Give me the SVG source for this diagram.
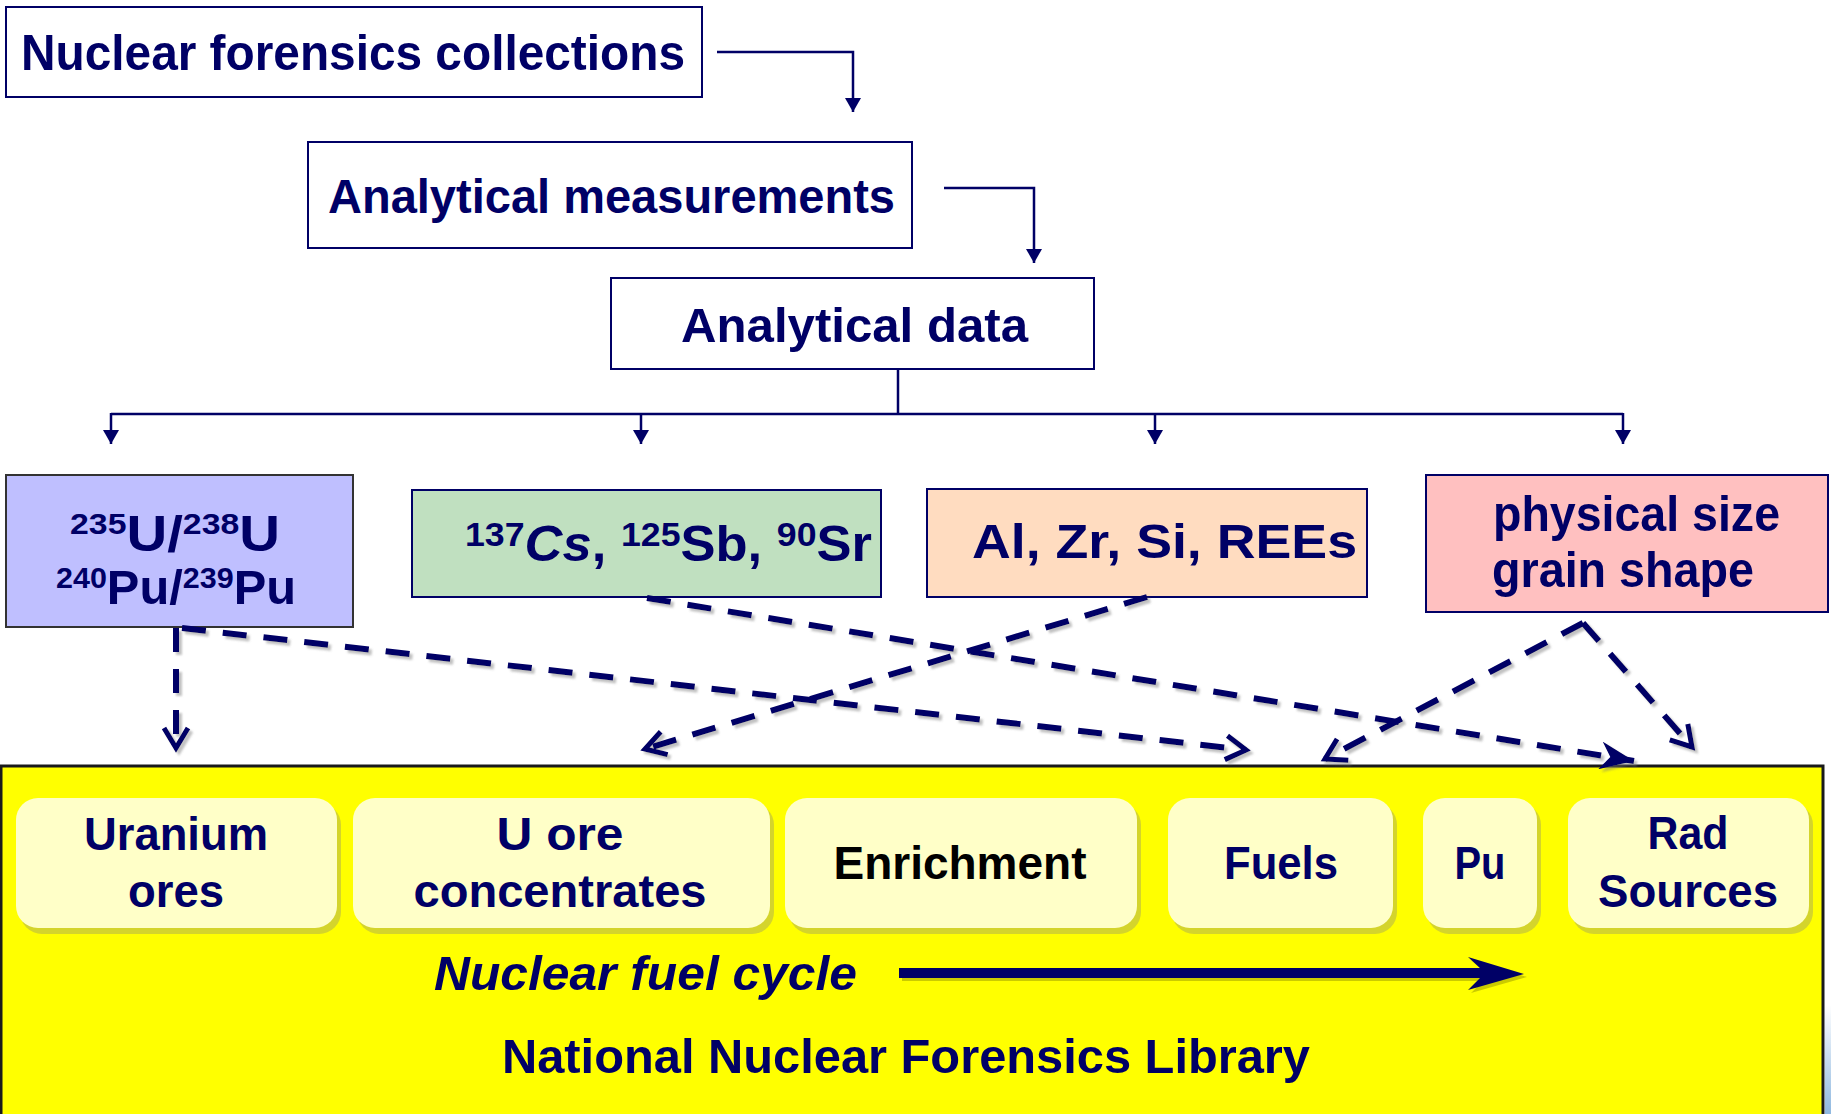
<svg xmlns="http://www.w3.org/2000/svg" width="1831" height="1114" viewBox="0 0 1831 1114">
  <style>
    .t { font-family: "Liberation Sans", Arial, sans-serif; font-weight: bold; fill: #000066; }
    .box { fill: #ffffff; stroke: #000066; stroke-width: 2; }
    .link { fill: none; stroke: #000066; stroke-width: 2.5; }
    .dash { fill: none; stroke: #000066; stroke-width: 6; stroke-dasharray: 24 17; }
    .stage { fill: #ffffc8; }
    .stage-shadow { fill: #d4d42c; }
  </style>
  <defs>
    <marker id="tri" viewBox="0 0 14 16" refX="14" refY="8" markerWidth="14" markerHeight="16" markerUnits="userSpaceOnUse" orient="auto">
      <path d="M0,0 L14,8 L0,16 z" fill="#000066"/>
    </marker>
    <marker id="vee" viewBox="-4 -4 30 32" refX="20" refY="12" markerWidth="30" markerHeight="32" markerUnits="userSpaceOnUse" orient="auto">
      <path d="M0,0 L20,12 L0,24" fill="none" stroke="#000066" stroke-width="5" stroke-dasharray="none" stroke-linejoin="miter"/>
    </marker>
    <marker id="barb" viewBox="0 0 36 28" refX="34" refY="14" markerWidth="36" markerHeight="28" markerUnits="userSpaceOnUse" orient="auto">
      <path d="M0,0 L34,14 L0,28 L10,14 z" fill="#000066"/>
    </marker>
    <filter id="soft" x="-5%" y="-5%" width="110%" height="120%">
      <feDropShadow dx="3" dy="3" stdDeviation="1.2" flood-color="#777777" flood-opacity="0.45"/>
    </filter>
    <linearGradient id="edge" x1="0" y1="0" x2="0" y2="1">
      <stop offset="0" stop-color="#ffffff"/>
      <stop offset="1" stop-color="#8fb8e0"/>
    </linearGradient>
  </defs>

  <!-- slide backdrop sliver at the right edge -->
  <rect x="1825" y="1005" width="6" height="109" fill="url(#edge)"/>

  <!-- library panel -->
  <g id="library">
    <rect x="1" y="766" width="1822" height="360" fill="#ffff00" stroke="#1a1a1a" stroke-width="3"/>
    <text class="t" x="502" y="1073" font-size="48" textLength="808" lengthAdjust="spacingAndGlyphs">National Nuclear Forensics Library</text>
  </g>

  <!-- top chain -->
  <g id="collections">
    <rect class="box" x="6" y="7" width="696" height="90"/>
    <text class="t" x="21" y="70" font-size="50" textLength="664" lengthAdjust="spacingAndGlyphs">Nuclear forensics collections</text>
  </g>
  <g id="measurements">
    <rect class="box" x="308" y="142" width="604" height="106"/>
    <text class="t" x="328" y="213" font-size="48" textLength="567" lengthAdjust="spacingAndGlyphs">Analytical measurements</text>
  </g>
  <g id="data">
    <rect class="box" x="611" y="278" width="483" height="91"/>
    <text class="t" x="681" y="342" font-size="48" textLength="347" lengthAdjust="spacingAndGlyphs">Analytical data</text>
  </g>

  <!-- signature categories -->
  <g id="isotopes">
    <rect x="6" y="475" width="347" height="152" fill="#bfbfff" stroke="#333333" stroke-width="2"/>
    <text class="t" x="70" y="551" font-size="50" textLength="210" lengthAdjust="spacingAndGlyphs"><tspan font-size="30" dy="-17">235</tspan><tspan dy="17">U/</tspan><tspan font-size="30" dy="-17">238</tspan><tspan dy="17">U</tspan></text>
    <text class="t" x="56" y="604" font-size="48" textLength="240" lengthAdjust="spacingAndGlyphs"><tspan font-size="30" dy="-16">240</tspan><tspan dy="16">Pu/</tspan><tspan font-size="30" dy="-16">239</tspan><tspan dy="16">Pu</tspan></text>
  </g>
  <g id="fission-products">
    <rect x="412" y="490" width="469" height="107" fill="#c0e0c0" stroke="#000066" stroke-width="2"/>
    <text class="t" x="465" y="561" font-size="50" textLength="407" lengthAdjust="spacingAndGlyphs"><tspan font-size="34" dy="-15">137</tspan><tspan dy="15" font-style="italic">Cs</tspan><tspan>, </tspan><tspan font-size="34" dy="-15">125</tspan><tspan dy="15">Sb, </tspan><tspan font-size="34" dy="-15">90</tspan><tspan dy="15">Sr</tspan></text>
  </g>
  <g id="elements">
    <rect x="927" y="489" width="440" height="108" fill="#ffdcc0" stroke="#000066" stroke-width="2"/>
    <text class="t" x="972" y="558" font-size="48" textLength="385" lengthAdjust="spacingAndGlyphs">Al, Zr, Si, REEs</text>
  </g>
  <g id="physical">
    <rect x="1426" y="475" width="402" height="137" fill="#ffc0c0" stroke="#000066" stroke-width="2"/>
    <text class="t" x="1493" y="531" font-size="50" textLength="287" lengthAdjust="spacingAndGlyphs">physical size</text>
    <text class="t" x="1492" y="587" font-size="50" textLength="262" lengthAdjust="spacingAndGlyphs">grain shape</text>
  </g>

  <!-- fuel cycle stages -->
  <g id="uranium-ores">
    <rect class="stage-shadow" x="20" y="803" width="321" height="131" rx="22"/>
    <rect class="stage" x="16" y="798" width="321" height="130" rx="22"/>
    <text class="t" x="176" y="850" font-size="46" text-anchor="middle" textLength="184" lengthAdjust="spacingAndGlyphs">Uranium</text>
    <text class="t" x="176" y="907" font-size="46" text-anchor="middle" textLength="96" lengthAdjust="spacingAndGlyphs">ores</text>
  </g>
  <g id="ore-concentrates">
    <rect class="stage-shadow" x="357" y="803" width="417" height="131" rx="22"/>
    <rect class="stage" x="353" y="798" width="417" height="130" rx="22"/>
    <text class="t" x="560" y="850" font-size="46" text-anchor="middle" textLength="127" lengthAdjust="spacingAndGlyphs">U ore</text>
    <text class="t" x="560" y="907" font-size="46" text-anchor="middle" textLength="293" lengthAdjust="spacingAndGlyphs">concentrates</text>
  </g>
  <g id="enrichment">
    <rect class="stage-shadow" x="789" y="803" width="352" height="131" rx="22"/>
    <rect class="stage" x="785" y="798" width="352" height="130" rx="22"/>
    <text class="t" x="960" y="879" font-size="46" text-anchor="middle" style="fill:#000000" textLength="253" lengthAdjust="spacingAndGlyphs">Enrichment</text>
  </g>
  <g id="fuels">
    <rect class="stage-shadow" x="1172" y="803" width="225" height="131" rx="22"/>
    <rect class="stage" x="1168" y="798" width="225" height="130" rx="22"/>
    <text class="t" x="1281" y="879" font-size="46" text-anchor="middle" textLength="114" lengthAdjust="spacingAndGlyphs">Fuels</text>
  </g>
  <g id="plutonium">
    <rect class="stage-shadow" x="1427" y="803" width="114" height="131" rx="22"/>
    <rect class="stage" x="1423" y="798" width="114" height="130" rx="22"/>
    <text class="t" x="1480" y="879" font-size="46" text-anchor="middle" textLength="51" lengthAdjust="spacingAndGlyphs">Pu</text>
  </g>
  <g id="rad-sources">
    <rect class="stage-shadow" x="1572" y="803" width="241" height="131" rx="22"/>
    <rect class="stage" x="1568" y="798" width="241" height="130" rx="22"/>
    <text class="t" x="1688" y="849" font-size="46" text-anchor="middle" textLength="81" lengthAdjust="spacingAndGlyphs">Rad</text>
    <text class="t" x="1688" y="907" font-size="46" text-anchor="middle" textLength="180" lengthAdjust="spacingAndGlyphs">Sources</text>
  </g>

  <!-- fuel cycle direction -->
  <g id="cycle-arrow">
    <text class="t" x="434" y="990" font-size="48" font-style="italic" textLength="423" lengthAdjust="spacingAndGlyphs">Nuclear fuel cycle</text>
    <path d="M902,971 L1483,971 L1471,960 L1527,977 L1471,993 L1483,981 L902,981 z" fill="#a8a800" opacity="0.6"/>
    <path d="M899,968 L1480,968 L1468,957 L1524,974 L1468,990 L1480,978 L899,978 z" fill="#000066"/>
  </g>

  <!-- connectors -->
  <g id="connectors">
    <polyline class="link" points="717,52 853,52 853,112" marker-end="url(#tri)"/>
    <polyline class="link" points="944,188 1034,188 1034,263" marker-end="url(#tri)"/>
    <polyline class="link" points="898,369 898,414"/>
    <polyline class="link" points="111,414 1623,414"/>
    <line class="link" x1="111" y1="413" x2="111" y2="444" marker-end="url(#tri)"/>
    <line class="link" x1="641" y1="413" x2="641" y2="444" marker-end="url(#tri)"/>
    <line class="link" x1="1155" y1="413" x2="1155" y2="444" marker-end="url(#tri)"/>
    <line class="link" x1="1623" y1="413" x2="1623" y2="444" marker-end="url(#tri)"/>
    <g filter="url(#soft)">
      <line class="dash" x1="176" y1="628" x2="176" y2="748" marker-end="url(#vee)"/>
      <line class="dash" x1="182" y1="628" x2="1246" y2="750" marker-end="url(#vee)"/>
      <line class="dash" x1="647" y1="598" x2="1634" y2="761" marker-end="url(#barb)"/>
      <line class="dash" x1="1147" y1="597" x2="645" y2="749" marker-end="url(#vee)"/>
      <line class="dash" x1="1583" y1="623" x2="1325" y2="759" marker-end="url(#vee)"/>
      <line class="dash" x1="1583" y1="623" x2="1692" y2="747" marker-end="url(#vee)"/>
    </g>
  </g>
</svg>
